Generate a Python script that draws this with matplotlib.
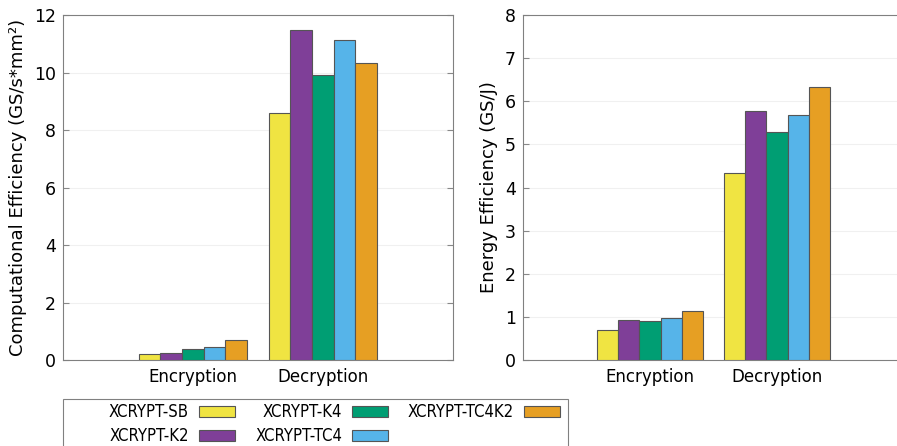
import matplotlib.pyplot as plt
from matplotlib.patches import Rectangle
import numpy as np

# data
groups = ['Encryption', 'Decryption']
series = ['XCRYPT-SB', 'XCRYPT-K2', 'XCRYPT-K4', 'XCRYPT-TC4', 'XCRYPT-TC4K2']
colors = ['#f0e442', '#7f3f98', '#009e73', '#56b4e9', '#e69f23']

comp_eff = [
    [0.20, 8.60],   # SB
    [0.25, 11.48],  # K2
    [0.39, 9.90],   # K4
    [0.45, 11.13],  # TC4
    [0.68, 10.32],  # TC4K2
]
energy_eff = [
    [0.70, 4.33],
    [0.93, 5.77],
    [0.90, 5.28],
    [0.98, 5.69],
    [1.14, 6.33],
]

plt.rcParams['font.family'] = ['DejaVu Sans']

fig = plt.figure(figsize=(8.97, 4.46), dpi=100)
ax1 = fig.add_axes([0.0702, 0.1928, 0.4348, 0.7735])
ax2 = fig.add_axes([0.5831, 0.1928, 0.4247, 0.7735])

x = np.arange(len(groups))
w = 1.0 / (len(series) + 1)


def draw(ax, data, ymax, ylabel):
    for i, (name, vals) in enumerate(zip(series, data)):
        off = (i - (len(series) - 1) / 2) * w
        ax.bar(x + off, vals, w, color=colors[i], edgecolor='#555555',
               linewidth=0.8, label=name, zorder=3)
    ax.set_xlim(-1, 2)
    ax.set_ylim(0, ymax)
    ax.set_xticks(x)
    ax.set_xticklabels(groups, fontsize=12)
    ax.tick_params(axis='x', length=0, pad=6)
    ax.tick_params(axis='y', direction='in', right=True, color='#888888',
                   labelsize=12.5, length=4, pad=5)
    ax.set_ylabel(ylabel, fontsize=13, labelpad=5)
    ax.grid(axis='y', color='#f0f0f0', linewidth=0.8, zorder=0)
    for s in ax.spines.values():
        s.set_color('#808080')


draw(ax1, comp_eff, 12, 'Computational Efficiency (GS/s*mm²)')
draw(ax2, energy_eff, 8, 'Energy Efficiency (GS/J)')
ax1.set_yticks(range(0, 13, 2))
ax2.set_yticks(range(0, 9, 1))

# legend box (frame drawn separately, wider than the entries)
fig.patches.append(Rectangle((63 / 897, -0.05), 505 / 897, 0.1054 + 0.05,
                             transform=fig.transFigure, facecolor='white',
                             edgecolor='#808080', linewidth=0.8, zorder=0))

handles, labels = ax1.get_legend_handles_labels()
leg = fig.legend(handles, labels, ncol=3, markerfirst=False,
                 loc='upper left', bbox_to_anchor=(109 / 897, -0.01, 451 / 897, 0.1064),
                 mode='expand', borderaxespad=0, frameon=False,
                 prop={'family': 'DejaVu Sans', 'stretch': 'condensed', 'size': 12},
                 handlelength=2.15, handleheight=0.65, handletextpad=0.6,
                 labelspacing=0.38, borderpad=0, columnspacing=1.5)
for p in leg.get_patches():
    p.set_edgecolor('#555555')

fig.savefig('out.png', dpi=100)
